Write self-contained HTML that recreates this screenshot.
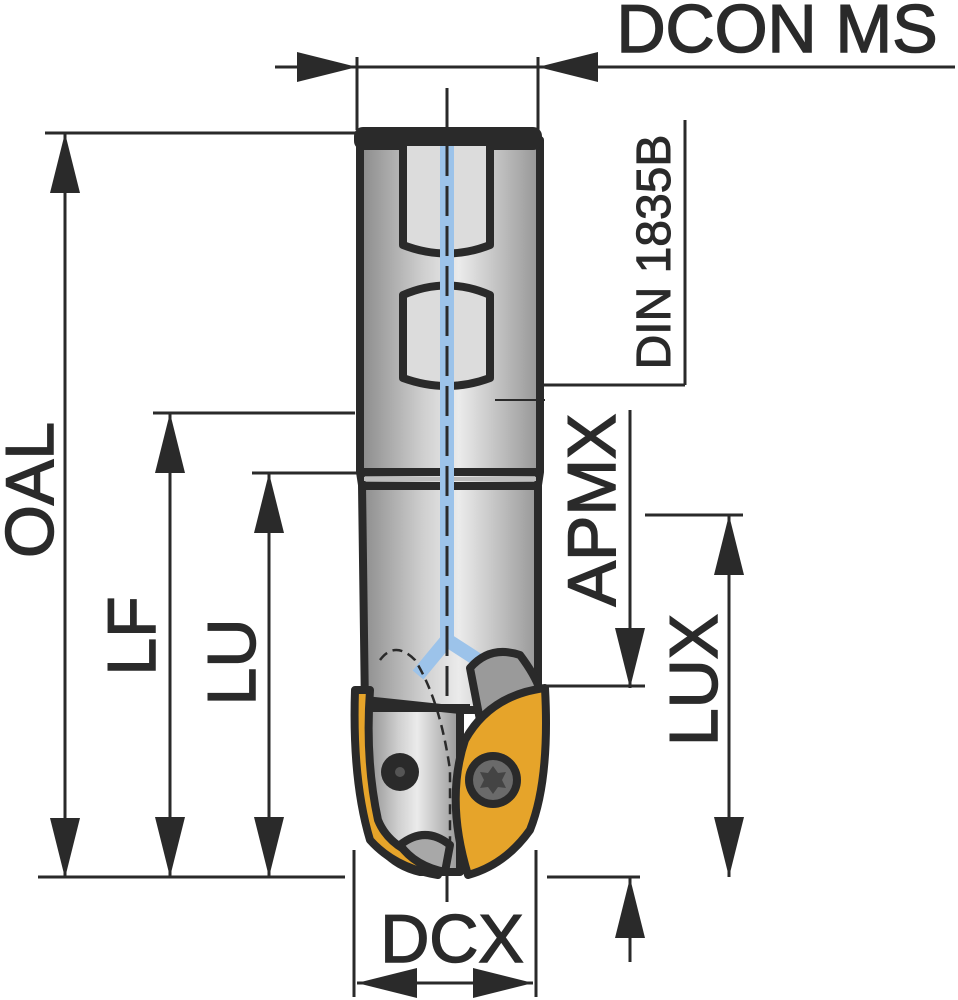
<!DOCTYPE html>
<html><head><meta charset="utf-8"><style>html,body{margin:0;padding:0;background:#fff}svg{display:block}</style></head>
<body>
<svg width="958" height="1000" viewBox="0 0 958 1000" xmlns="http://www.w3.org/2000/svg" font-family="Liberation Sans, sans-serif" fill="#2a2a2a">
<defs>
<linearGradient id="g" x1="0" x2="1" y1="0" y2="0">
<stop offset="0" stop-color="#8a8a8a"/><stop offset="0.35" stop-color="#cfcfcf"/><stop offset="0.55" stop-color="#ebebeb"/><stop offset="1" stop-color="#959595"/>
</linearGradient>
</defs>
<g stroke="#2a2a2a" stroke-width="3" fill="none">
<line x1="275" y1="67" x2="955" y2="67"/>
<line x1="357" y1="57" x2="357" y2="130"/>
<line x1="538" y1="57" x2="538" y2="130"/>
<line x1="447" y1="88" x2="447" y2="133"/>
<line x1="45" y1="133" x2="357" y2="133"/>
<line x1="65" y1="133" x2="65" y2="878"/>
<line x1="38" y1="877" x2="345" y2="877"/>
<line x1="153" y1="413" x2="355" y2="413"/>
<line x1="170" y1="413" x2="170" y2="877"/>
<line x1="252" y1="473" x2="357" y2="473"/>
<line x1="269" y1="473" x2="269" y2="877"/>
<line x1="685" y1="120" x2="685" y2="385"/>
<line x1="500" y1="385" x2="685" y2="385"/>
<line x1="630" y1="410" x2="630" y2="688"/>
<line x1="540" y1="686" x2="645" y2="686"/>
<line x1="630" y1="878" x2="630" y2="962"/>
<line x1="547" y1="877" x2="640" y2="877"/>
<line x1="645" y1="515" x2="743" y2="515"/>
<line x1="729" y1="515" x2="729" y2="877"/>
<line x1="354" y1="850" x2="354" y2="997"/>
<line x1="536" y1="850" x2="536" y2="997"/>
<line x1="357" y1="983" x2="533" y2="983"/>
<line x1="447" y1="860" x2="447" y2="902"/>
</g>
<g fill="#2a2a2a">
<polygon points="357,67 297,52 297,82"/>
<polygon points="538,67 598,52 598,82"/>
<polygon points="65,133 50,193 80,193"/>
<polygon points="65,878 50,818 80,818"/>
<polygon points="170,413 155,473 185,473"/>
<polygon points="170,877 155,817 185,817"/>
<polygon points="269,473 254,533 284,533"/>
<polygon points="269,877 254,817 284,817"/>
<polygon points="630,688 615,628 645,628"/>
<polygon points="630,878 615,938 645,938"/>
<polygon points="729,515 714,575 744,575"/>
<polygon points="729,877 714,817 744,817"/>
<polygon points="357,983 417,968 417,998"/>
<polygon points="533,983 473,968 473,998"/>
</g>
<g stroke="#2a2a2a" stroke-width="8" stroke-linejoin="round">
<path d="M360,140 L360,472 L362,485 L365,710 L538,710 L538,485 L540,472 L540,140 Z" fill="url(#g)"/>
<rect x="358" y="131" width="180" height="15" rx="5" fill="#2a2a2a"/>
<path d="M403,146 L403,245 Q447,262 490,245 L490,146" fill="#dcdcdc"/>
<path d="M403,378 L403,295 Q447,276 490,295 L490,378 Q447,394 403,378 Z" fill="#dcdcdc"/>
<line x1="360" y1="472" x2="540" y2="472"/>
<line x1="362" y1="486" x2="538" y2="486"/>
</g>
<line x1="364" y1="479" x2="536" y2="479" stroke="#bdbdbd" stroke-width="4"/>
<path d="M447,146 L447,640 L418,675 M447,640 L478,660" stroke="#9cc3ea" stroke-width="14" fill="none"/>
<line x1="447" y1="146" x2="447" y2="870" stroke="#2a2a2a" stroke-width="3" stroke-dasharray="30,10"/>
<g stroke="#2a2a2a" stroke-width="8" stroke-linejoin="round">
<path d="M365,700 L365,800 Q370,860 420,872 L460,872 L460,710 Z" fill="url(#g)"/>
<line x1="365" y1="708" x2="470" y2="708"/>
<path d="M355,690 Q352,780 370,840 Q395,868 438,875 L432,860 Q390,850 378,820 Q365,760 370,690 Z" fill="#e6a42a"/>
<path d="M470,668 Q490,645 520,655 Q535,675 540,690 L480,720 Z" fill="#9a9a9a"/>
<path d="M468,875 Q445,800 465,740 Q490,695 545,688 Q550,780 530,830 Q505,865 468,875 Z" fill="#e6a42a"/>
<path d="M400,845 Q425,825 450,845 L445,872 Q415,866 400,845 Z" fill="#a8a8a8"/>
</g>
<path d="M380,660 Q395,640 415,660 Q440,700 450,770 L450,850" stroke="#2a2a2a" stroke-width="2.5" fill="none" stroke-dasharray="10,6"/>
<circle cx="400" cy="772" r="19" fill="#2a2a2a"/>
<circle cx="400" cy="772" r="5" fill="#555"/>
<circle cx="493" cy="780" r="28" fill="#2a2a2a"/>
<circle cx="493" cy="780" r="20" fill="#6a6a6a"/>
<polygon points="493,766 498,773 506,772 502,780 506,788 498,787 493,794 488,787 480,788 484,780 480,772 488,773" fill="#444"/>
<line x1="495" y1="400" x2="545" y2="400" stroke="#2a2a2a" stroke-width="2"/>
<g font-size="68" fill="#2a2a2a" stroke="#2a2a2a" stroke-width="1.5">
<text x="777" y="52" text-anchor="middle">DCON MS</text>
<text transform="translate(53,490) rotate(-90)" text-anchor="middle">OAL</text>
<text transform="translate(155,636) rotate(-90)" text-anchor="middle">LF</text>
<text transform="translate(255,662) rotate(-90)" text-anchor="middle">LU</text>
<text transform="translate(615,510) rotate(-90)" text-anchor="middle">APMX</text>
<text transform="translate(717,680) rotate(-90)" text-anchor="middle">LUX</text>
<text x="452" y="962" text-anchor="middle">DCX</text>
</g>
<text transform="translate(670,252) rotate(-90)" text-anchor="middle" font-size="48" fill="#2a2a2a" stroke="#2a2a2a" stroke-width="1">DIN 1835B</text>
</svg>
</body></html>
